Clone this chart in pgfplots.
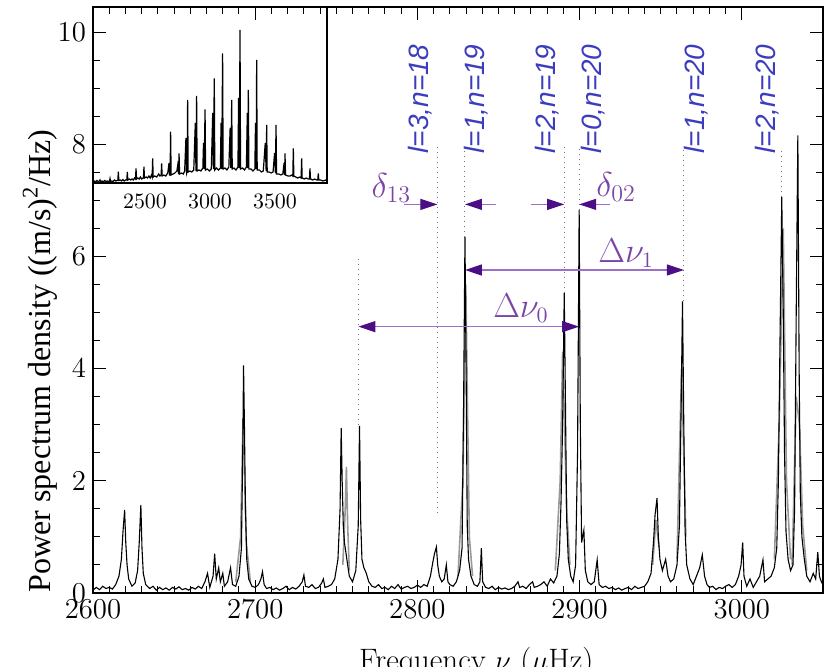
\documentclass[border=0pt]{standalone}
\usepackage{pgfplots}
\pgfplotsset{compat=1.18}
\usetikzlibrary{arrows.meta}
\usepackage{fontspec}
\newfontfamily\timesf{Liberation Serif}
\newfontfamily\helvf{Liberation Sans}
\definecolor{labelblue}{HTML}{3C3CBE}
\definecolor{deltapurple}{HTML}{7B45A8}
\definecolor{arrowline}{HTML}{9A70C8}
\definecolor{arrowhead}{HTML}{4B0E85}
\begin{document}
\begin{tikzpicture}
% ---------------- inset ----------------
\begin{axis}[
  at={(0,205pt)}, anchor=south west, scale only axis,
  width=117pt, height=88pt,
  xmin=2100, xmax=3900, ymin=0, ymax=176,
  xtick={2500,3000,3500}, ytick=\empty,
  major tick length=0pt, minor tick length=0pt,
  /pgf/number format/1000 sep={},
  ticklabel style={font=\fontsize{10.8}{11}\selectfont},
  xticklabel style={yshift=-2pt},
  axis line style={line width=0.7pt},
]
\addplot[black, line width=0.6pt] coordinates {
(2100,1) (2110,2) (2120,1) (2130,2.5) (2140,1.5) (2150,2) (2154,3) (2158,1.5) (2170,2) (2180,1)
(2190,2.5) (2200,1.5) (2210,2) (2220,1.5) (2227,2) (2231,4.5) (2235,1.5) (2245,2) (2255,1.5)
(2265,3) (2275,2) (2285,2.5) (2291,3) (2295,11.3) (2299,2.5) (2310,3) (2320,2) (2330,3.5)
(2340,2) (2350,3) (2360,3) (2364,11) (2368,3) (2380,4) (2390,3) (2400,4) (2410,3) (2420,5)
(2427,4) (2431,14.7) (2435,4) (2445,5) (2455,4) (2465,6) (2475,4) (2485,5) (2488,5)
(2492,16.3) (2496,5) (2510,6) (2520,5) (2530,7) (2540,5) (2550,8) (2555,6) (2559,24.7)
(2563,6) (2575,7) (2590,6) (2605,9) (2615,7) (2624,8) (2628,19.7) (2632,7) (2645,8) (2660,7)
(2675,10) (2685,20) (2689,8) (2693,8) (2697,51.3) (2701,8) (2715,9) (2730,10) (2745,12)
(2752,18) (2758,9) (2762,29.7) (2766,9) (2780,10) (2795,9) (2805,12) (2815,45) (2820,10)
(2824,12) (2828,83) (2832,11) (2845,12) (2860,11) (2875,13) (2887,60) (2892,12) (2897,87)
(2901,12) (2915,13) (2930,12) (2945,15) (2950,40) (2955,14) (2962,73.7) (2966,13) (2980,14)
(2995,12) (3010,14) (3021,70) (3026,14) (3033,104.7) (3037,13) (3050,15) (3065,13) (3080,15)
(3085,60) (3090,14) (3097,129.7) (3101,14) (3115,15) (3130,13) (3145,16) (3155,55) (3160,15)
(3167,83) (3171,14) (3185,15) (3200,13) (3215,16) (3220,85) (3225,15) (3231,153) (3235,14)
(3250,15) (3265,13) (3280,16) (3287,70) (3291,15) (3295,93) (3299,14) (3315,14) (3330,12)
(3345,14) (3350,60) (3355,14) (3359,123) (3363,13) (3380,13) (3395,11) (3410,12) (3425,40)
(3432,12) (3436,58) (3440,11) (3455,11) (3470,10) (3485,11) (3497,30) (3503,10) (3508,58)
(3512,9) (3530,9) (3545,8) (3560,9) (3570,20) (3574,8) (3577,29.7) (3581,8) (3600,7) (3615,7)
(3630,8) (3637,7) (3641,34.7) (3645,7) (3660,6) (3675,5) (3690,6) (3701,5) (3705,24.7)
(3709,5) (3725,4) (3740,5) (3755,4) (3765,4) (3769,14.7) (3773,4) (3790,3) (3805,4) (3820,3)
(3829,3) (3833,9.7) (3837,3) (3850,3) (3870,2) (3890,3) (3900,2)
};
\end{axis}
% ---------------- main ----------------
\begin{axis}[
  at={(0,0)}, anchor=south west, scale only axis,
  width=365pt, height=293pt,
  xmin=2600, xmax=3050, ymin=0, ymax=10.45,
  xtick={2600,2700,2800,2900,3000}, minor x tick num=9,
  ytick={0,2,4,6,8,10}, minor y tick num=3,
  tick align=inside,
  major tick length=6.5pt, minor tick length=3.5pt,
  tick style={black, line width=0.5pt},
  axis line style={line width=0.7pt},
  /pgf/number format/1000 sep={},
  ticklabel style={font=\fontsize{15.5}{16}\selectfont},
  unbounded coords=jump,
  xlabel={Frequency $\nu$ ($\mu$Hz)},
  xlabel style={at={(rel axis cs:0.525,-0.133)}, anchor=base, font=\fontsize{15.5}{16}\selectfont},
  ylabel={Power spectrum density ((m/s)\textsuperscript{2}/Hz)},
  ylabel style={at={(rel axis cs:-0.0726,0.396)}, anchor=center, font=\timesf\fontsize{16}{17}\selectfont},
]
% gray under-layer
\addplot[black!40, line width=0.8pt] coordinates {
(2688,0.2) (2691,1.0) (2692.5,3.1) (2694.5,0.9) (2697,0.2) (2697,nan)
(2754,0.5) (2755.5,1.5) (2756.2,2.25) (2757,1.2) (2758,0.4) (2758,nan)
(2825,0.3) (2828,2.0) (2829.8,5.5) (2832,1.0) (2834,0.3) (2834,nan)
(2885,0.4) (2888,2.0) (2889.5,4.3) (2892,1.5) (2894,0.5) (2894,nan)
(2945,0.5) (2947,1.3) (2949,0.8) (2949,nan)
(2960,0.6) (2962.8,4.0) (2965.5,1.0) (2965.5,nan)
(3020,0.6) (3023,3.0) (3025.5,6.5) (3027.5,2.0) (3030,0.6) (3030,nan)
(3031,0.5) (3033.5,3.5) (3035.5,3.0) (3037.5,1.2) (3040,0.4)
};
% spectrum
\addplot[black, line width=0.55pt] coordinates {
(2600,0.05) (2602,0.1) (2604,0.06) (2606,0.12) (2608,0.08) (2610,0.1) (2612,0.07) (2614,0.15)
(2616,0.3) (2617.5,0.6) (2618.5,1.1) (2619.5,1.48) (2620.2,0.9) (2621,0.5) (2622,0.25)
(2624,0.12) (2626,0.18) (2627.5,0.4) (2628.5,0.9) (2629.5,1.57) (2630.2,0.8) (2631,0.35)
(2632.5,0.15) (2635,0.08) (2637,0.12) (2639,0.05) (2641,0.1) (2643,0.06) (2645,0.09)
(2647,0.05) (2649,0.1) (2651,0.07) (2653,0.11) (2655,0.06) (2657,0.08) (2659,0.05)
(2661,0.1) (2663,0.07) (2665,0.12) (2667,0.08) (2669,0.2) (2670.6,0.35) (2672,0.1)
(2674,0.3) (2675,0.7) (2676,0.25) (2677.5,0.45) (2678.5,0.2) (2680,0.35) (2681,0.12)
(2683,0.2) (2684.8,0.45) (2686,0.15) (2688,0.12) (2690,0.3) (2691.5,0.8) (2692.3,2.5)
(2692.8,4.06) (2693.3,3.1) (2694,1.5) (2694.8,0.6) (2696,0.25) (2698,0.12) (2700,0.1)
(2702,0.15) (2703.5,0.25) (2704.5,0.38) (2705.5,0.15) (2707,0.08) (2709,0.1) (2711,0.06)
(2713,0.09) (2715,0.05) (2717,0.08) (2719,0.12) (2721,0.06) (2723,0.1) (2725,0.07)
(2727,0.12) (2729,0.2) (2730,0.32) (2731,0.12) (2733,0.1) (2735,0.15) (2737,0.08)
(2739,0.1) (2741,0.18) (2742,0.25) (2743,0.1) (2745,0.12) (2747,0.15) (2749,0.25)
(2751,0.6) (2752.3,1.5) (2753,2.94) (2753.6,2.0) (2754.3,1.2) (2755,0.9) (2756,0.7)
(2757,0.5) (2758,0.3) (2760,0.2) (2762,0.4) (2763.5,1.2) (2764.3,2.98) (2765,1.3)
(2765.8,0.6) (2767,0.45) (2768.5,0.35) (2770,0.2) (2772,0.12) (2774,0.1) (2776,0.15)
(2778,0.08) (2780,0.1) (2782,0.06) (2784,0.12) (2786,0.08) (2788,0.15) (2790,0.07)
(2792,0.1) (2794,0.12) (2796,0.08) (2798,0.1) (2800,0.14) (2802,0.1) (2804,0.15)
(2806,0.12) (2808,0.3) (2809.5,0.55) (2810.5,0.7) (2811.7,0.82) (2812.5,0.5) (2813.5,0.3)
(2815,0.2) (2816.5,0.25) (2817.8,0.5) (2818.8,0.2) (2820,0.15) (2822,0.12) (2824,0.2)
(2826,0.4) (2827.5,0.8) (2828.5,3.5) (2829.3,6.35) (2830,4.0) (2830.7,1.2) (2831.5,0.6)
(2833,0.3) (2835,0.15) (2837,0.12) (2838.5,0.2) (2839.4,0.8) (2840.2,0.2) (2842,0.1)
(2844,0.08) (2846,0.12) (2848,0.06) (2850,0.1) (2852,0.07) (2854,0.09) (2856,0.06)
(2858,0.08) (2860,0.12) (2862,0.2) (2863,0.1) (2865,0.12) (2867,0.08) (2869,0.15)
(2871,0.2) (2872,0.1) (2874,0.12) (2876,0.15) (2878,0.2) (2880,0.12) (2882,0.25)
(2884,0.18) (2886,0.3) (2887.5,0.7) (2888.5,1.6) (2889.5,3.0) (2890.5,5.35) (2891.2,3.5)
(2892,1.3) (2893,0.6) (2894.5,0.3) (2896,0.2) (2897.5,0.5) (2898.7,2.5) (2899.7,6.83)
(2900.4,3.0) (2901.2,0.9) (2902.6,1.12) (2903.5,0.4) (2905,0.2) (2907,0.15) (2909,0.2)
(2910.8,0.59) (2912,0.15) (2914,0.1) (2916,0.12) (2918,0.08) (2920,0.1) (2922,0.06)
(2924,0.09) (2926,0.05) (2928,0.08) (2930,0.1) (2932,0.06) (2934,0.12) (2936,0.08)
(2938,0.1) (2940,0.12) (2942,0.2) (2944,0.35) (2945.5,0.9) (2946.5,1.4) (2947.7,1.69)
(2948.5,1.0) (2949.5,0.6) (2951,0.4) (2953,0.6) (2954.5,0.3) (2956,0.2) (2958,0.25)
(2960,0.5) (2961.5,1.2) (2962.5,3.2) (2963.4,5.2) (2964.2,3.0) (2965,1.1) (2966,0.5)
(2968,0.25) (2970,0.15) (2972,0.3) (2974,0.45) (2975.6,0.68) (2977,0.3) (2978.5,0.15)
(2980,0.1) (2982,0.12) (2984,0.06) (2986,0.1) (2988,0.08) (2990,0.12) (2992,0.15)
(2994,0.1) (2996,0.15) (2998,0.3) (2999.5,0.5) (3000.5,0.9) (3001.3,0.3) (3003,0.12)
(3005,0.25) (3007,0.1) (3009,0.2) (3011,0.3) (3013,0.59) (3014,0.2) (3016,0.25)
(3018,0.3) (3020,0.45) (3021.5,0.8) (3022.5,2.0) (3023.5,4.5) (3024.6,7.06) (3025.5,5.0)
(3026.3,2.5) (3027.2,1.1) (3028.5,0.6) (3030,0.4) (3031.5,0.5) (3032.5,1.5) (3033.5,5.0)
(3034.5,8.16) (3035.3,4.0) (3036,1.8) (3037,1.0) (3038.5,0.6) (3040,0.3) (3042,0.2)
(3044,0.35) (3045.5,0.25) (3046.8,0.73) (3047.8,0.3) (3049,0.2) (3050,0.15)
};
% dotted mode markers
\begin{scope}[black!55, dotted, line width=0.5pt]
\draw (axis cs:2763.6,3.0) -- (axis cs:2763.6,5.97);
\draw (axis cs:2812.3,1.43) -- (axis cs:2812.3,7.95);
\draw (axis cs:2829.3,6.35) -- (axis cs:2829.3,7.95);
\draw (axis cs:2890.5,5.35) -- (axis cs:2890.5,7.95);
\draw (axis cs:2899.7,6.83) -- (axis cs:2899.7,7.95);
\draw (axis cs:2964.3,5.2) -- (axis cs:2964.3,7.95);
\draw (axis cs:3024.6,7.06) -- (axis cs:3024.6,7.95);
\end{scope}
% mode labels
\begin{scope}[every node/.style={rotate=90, text=labelblue, inner sep=0pt, font=\helvf\itshape\fontsize{14}{14}\selectfont}]
\node at (axis cs:2801.7,8.81) {l=3,n=18};
\node at (axis cs:2836.1,8.81) {l=1,n=19};
\node at (axis cs:2879.8,8.81) {l=2,n=19};
\node at (axis cs:2908.5,8.81) {l=0,n=20};
\node at (axis cs:2972.1,8.81) {l=1,n=20};
\node at (axis cs:3015.6,8.81) {l=2,n=20};
\end{scope}
% arrows
\tikzset{ahead/.tip={Triangle[length=8.5pt,width=5.5pt,color=arrowhead]}}
\begin{scope}[arrowline, line width=0.6pt]
\draw[-ahead] (axis cs:2792,6.93) -- (axis cs:2812.3,6.93);
\draw[-ahead] (axis cs:2848.6,6.93) -- (axis cs:2829.3,6.93);
\draw[-ahead] (axis cs:2870,6.93) -- (axis cs:2890.5,6.93);
\draw[-ahead] (axis cs:2919,6.93) -- (axis cs:2899.7,6.93);
\draw[ahead-ahead] (axis cs:2829.3,5.76) -- (axis cs:2964.3,5.76);
\draw[ahead-ahead] (axis cs:2763.6,4.75) -- (axis cs:2899.7,4.75);
\end{scope}
\node[text=deltapurple, font=\fontsize{17}{17}\selectfont] at (axis cs:2784,7.22) {$\delta_{13}$};
\node[text=deltapurple, font=\fontsize{17}{17}\selectfont] at (axis cs:2922.5,7.24) {$\delta_{02}$};
\node[text=deltapurple, font=\fontsize{16}{16}\selectfont] at (axis cs:2928.6,6.06) {$\Delta\nu_1$};
\node[text=deltapurple, font=\fontsize{16}{16}\selectfont] at (axis cs:2863.8,5.08) {$\Delta\nu_0$};
\end{axis}
\pgfresetboundingbox
\useasboundingbox (-46.5pt,-36.5pt) rectangle (369pt,296.5pt);
\end{tikzpicture}
\end{document}
